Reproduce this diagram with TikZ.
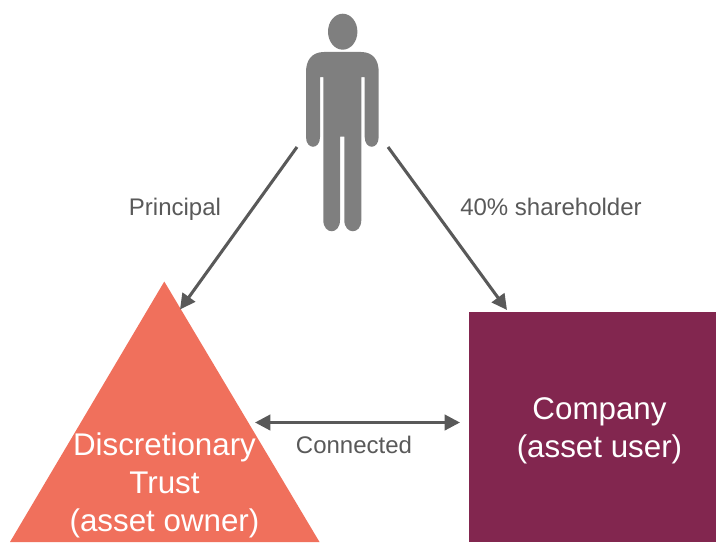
\documentclass[tikz,border=0pt]{standalone}
\usepackage{fontspec}
\setmainfont{Liberation Sans}
\usetikzlibrary{arrows.meta}
\definecolor{trustcol}{HTML}{F0705C}
\definecolor{compcol}{HTML}{82264F}
\definecolor{mancol}{HTML}{7F7F7F}
\definecolor{linecol}{HTML}{595959}
\tikzset{
  x=0.75pt,y=-0.75pt,
  link/.style={draw=linecol,line width=2.3pt,-{Triangle[length=11.5pt,width=11.5pt]}},
  both/.style={draw=linecol,line width=2.3pt,{Triangle[length=11.5pt,width=11.5pt]}-{Triangle[length=11.5pt,width=11.5pt]}},
  lab/.style={text=linecol,font=\fontsize{18}{22}\selectfont,inner sep=0pt,anchor=base},
  big/.style={text=white,font=\fontsize{23.5}{28.5}\selectfont,inner sep=0pt,align=center,anchor=center},
}
\begin{document}
\begin{tikzpicture}
\useasboundingbox (0,0) rectangle (716,542);
% trust and company
\fill[trustcol] (164.3,281.5) -- (319.5,542) -- (10,542) -- cycle;
\fill[compcol] (469,312) rectangle (716,542);
% person
\fill[mancol] (342.7,31.7) ellipse [x radius=14.7,y radius=18];
\fill[mancol] (306,72) .. controls (306,60) and (312,52) .. (324,52) -- (361,52)
  .. controls (373,52) and (378.7,60) .. (378.7,72) -- (378.7,137)
  .. controls (378.7,150) and (364.7,150) .. (364.7,137) -- (364.7,77) -- (361.3,77)
  -- (361.3,220) .. controls (361.3,235) and (344.3,235) .. (344.3,220) -- (344.3,136.7)
  -- (340,136.7) -- (340,220) .. controls (340,235) and (323.3,235) .. (323.3,220)
  -- (323.3,77) -- (320,77) -- (320,137) .. controls (320,150) and (306,150) .. (306,137) -- cycle;
% connector ends
\coordinate (manL) at (297,147);
\coordinate (manR) at (388,147);
\coordinate (trustTop) at (180,309.5);
\coordinate (compTop) at (507,310);
\coordinate (trustSide) at (255,422.5);
\coordinate (compSide) at (460,422.5);
\draw[link] (manL) -- (trustTop);
\draw[link] (manR) -- (compTop);
\draw[both] (trustSide) -- (compSide);
% labels
\node[lab] (principal) at (175,215) {Principal};
\node[lab] (share) at (551,215) {40\% shareholder};
\node[lab] (conn) at (354,453) {Connected};
\node[big] (trust) at (164.5,485.5) {Discretionary\\Trust\\(asset owner)};
\node[big] (company) at (599.5,431) {Company\\(asset user)};
\end{tikzpicture}
\end{document}
